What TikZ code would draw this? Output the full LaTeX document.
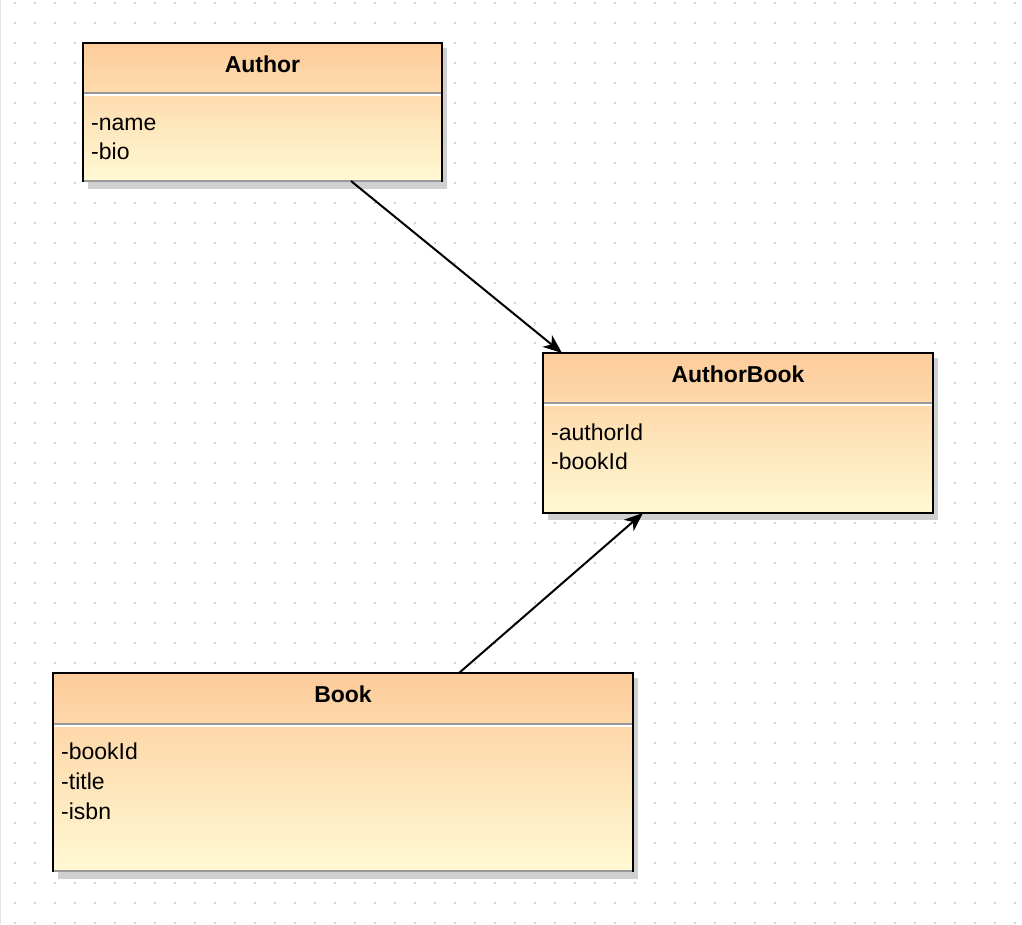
\documentclass[tikz,border=0pt]{standalone}
\usepackage{fontspec}
\setmainfont{Liberation Sans}
\usetikzlibrary{arrows.meta,calc}

\definecolor{peach}{HTML}{FDCB9A}
\definecolor{cream}{HTML}{FFF9D3}
\definecolor{dotgray}{HTML}{D2D2D2}
\definecolor{sepgray}{HTML}{999999}
\definecolor{shadowgray}{HTML}{D0D0D0}
\definecolor{edgegray}{HTML}{E4E4E4}

\pgfdeclarelayer{grid}
\pgfdeclarelayer{shade}
\pgfsetlayers{grid,shade,main}

\tikzset{
  classbox/.style={draw=black, line width=2pt, top color=peach, bottom color=cream,
    anchor=north west, inner sep=0pt, outer sep=0pt},
  classtitle/.style={font=\fontsize{23}{28}\selectfont\bfseries, anchor=base, inner sep=0pt},
  attr/.style={font=\fontsize{23}{28}\selectfont, anchor=base west, inner sep=0pt},
  divider/.style={draw=sepgray, line width=2pt},
  gleam/.style={draw=white, line width=1.5pt},
  boxshadow/.style={fill=shadowgray},
  assoc/.style={line width=2pt, -{Stealth[length=19pt,width=15pt,inset=5.5pt]}},
}

\begin{document}
\begin{tikzpicture}[x=1pt,y=1pt]
\useasboundingbox (0,0) rectangle (1022,-924);

% canvas with dotted grid
\begin{pgfonlayer}{grid}
  \fill[white] (0,0) rectangle (1022,-924);
  \draw[edgegray, line width=1.2pt] (0.6,0) -- (0.6,-924);
  \foreach \x in {15,35,...,1015}
    \foreach \y in {3,23,...,923}
      \fill[dotgray] (\x-1,-\y+1) rectangle (\x+1,-\y-1);
\end{pgfonlayer}

% class boxes
\node[classbox, minimum width=359pt, minimum height=138pt] (author) at (83,-43) {};
\node[classbox, minimum width=390pt, minimum height=160pt] (authorbook) at (543,-353) {};
\node[classbox, minimum width=580pt, minimum height=198pt] (book) at (53,-673) {};

% shadows
\begin{pgfonlayer}{shade}
  \fill[boxshadow] ([shift={(5,-5)}]author.north west) rectangle ([shift={(5,-8)}]author.south east);
  \fill[boxshadow] ([shift={(5,-5)}]authorbook.north west) rectangle ([shift={(5,-7)}]authorbook.south east);
  \fill[boxshadow] ([shift={(5,-5)}]book.north west) rectangle ([shift={(5,-8)}]book.south east);
\end{pgfonlayer}

% header dividers
\foreach \b/\d in {author/49.7, authorbook/49.7, book/50.5} {
  \draw[divider] ([shift={(1,-\d)}]\b.north west) -- ([shift={(-1,-\d)}]\b.north east);
  \draw[gleam] ([shift={(1,-\d-2.3)}]\b.north west) -- ([shift={(-1,-\d-2.3)}]\b.north east);
}

% closing dividers at the foot of Author and Book
\draw[divider] ([xshift=1pt]author.south west) -- ([xshift=-1pt]author.south east);
\draw[divider] ([xshift=1pt]book.south west) -- ([xshift=-1pt]book.south east);

% titles
\node[classtitle] (authorT) at ($(author.north)+(0,-29)$) {Author};
\node[classtitle] (authorbookT) at ($(authorbook.north)+(0,-29)$) {AuthorBook};
\node[classtitle] (bookT) at ($(book.north)+(0,-29)$) {Book};

% attributes
\node[attr] (authorA1) at ($(author.north west)+(8,-87)$) {-name};
\node[attr] (authorA2) at ($(author.north west)+(8,-116.5)$) {-bio};
\node[attr] (authorbookA1) at ($(authorbook.north west)+(8,-87)$) {-authorId};
\node[attr] (authorbookA2) at ($(authorbook.north west)+(8,-116.5)$) {-bookId};
\node[attr] (bookA1) at ($(book.north west)+(8,-86)$) {-bookId};
\node[attr] (bookA2) at ($(book.north west)+(8,-116)$) {-title};
\node[attr] (bookA3) at ($(book.north west)+(8,-146)$) {-isbn};

% associations
\draw[assoc] ([xshift=268pt]author.south west) -- ([xshift=19pt]authorbook.north west);
\draw[assoc] ([xshift=406pt]book.north west) -- ([xshift=100pt]authorbook.south west);
\end{tikzpicture}
\end{document}
